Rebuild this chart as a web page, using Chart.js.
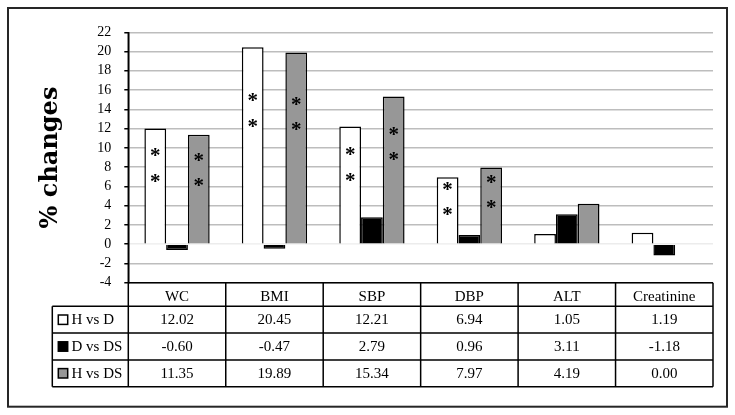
<!DOCTYPE html>
<html>
<head>
<meta charset="utf-8">
<script src="https://cdn.jsdelivr.net/npm/chart.js@4/dist/chart.umd.min.js"></script>
<style>
  html, body { margin: 0; padding: 0; background: #ffffff; }
  canvas { display: block; }
</style>
</head>
<body>
<canvas id="c" width="735" height="415"></canvas>
<script>
// ---- data ----
const categories = ['WC', 'BMI', 'SBP', 'DBP', 'ALT', 'Creatinine'];
const seriesNames = ['H vs D', 'D vs DS', 'H vs DS'];
const hVsD  = [12.02, 20.45, 12.21, 6.94, 1.05, 1.19];
const dVsDS = [-0.60, -0.47, 2.79, 0.96, 3.11, -1.18];
const hVsDS = [11.35, 19.89, 15.34, 7.97, 4.19, 0.00];
const sigHvsD  = ['**', '**', '**', '**', '', ''];
const sigHvsDS = ['**', '**', '**', '**', '', ''];
const yMin = -4, yMax = 22, yStep = 2;
const axisTitle = '% changes';

// ---- styles ----
const seriesFill = ['#ffffff', '#000000', '#979797'];
const serif = '"Liberation Serif", "Times New Roman", serif';

const tablePlugin = {
  id: 'dataTable',
  afterDraw(chart) {
    const ctx = chart.ctx;
    const area = chart.chartArea;
    const xs = chart.scales.x;
    const n = categories.length;
    const w = (area.right - area.left) / n;
    const headerH = 23.6, rowH = 26.8;
    const tableLeft = 52.3;
    const y0 = area.bottom;
    const rows = [y0 + headerH, y0 + headerH + rowH, y0 + headerH + 2 * rowH, y0 + headerH + 3 * rowH];
    const yEnd = rows[3];
    const values = [hVsD, dVsDS, hVsDS];

    ctx.save();
    ctx.strokeStyle = '#000';
    ctx.lineWidth = 1.5;
    ctx.beginPath();
    ctx.moveTo(area.left, y0); ctx.lineTo(area.right, y0);
    rows.forEach(y => { ctx.moveTo(tableLeft, y); ctx.lineTo(area.right, y); });
    ctx.moveTo(tableLeft, rows[0]); ctx.lineTo(tableLeft, yEnd);
    for (let k = 0; k <= n; k++) {
      const x = area.left + k * w;
      ctx.moveTo(x, k === 0 ? area.top : y0); ctx.lineTo(x, yEnd);
    }
    ctx.stroke();

    ctx.font = '15px ' + serif;
    ctx.fillStyle = '#000';
    ctx.textBaseline = 'middle';
    values.forEach((vals, r) => {
      const cy = rows[r] + rowH / 2;
      const ms = 9.4, mx = 58.3;
      ctx.fillStyle = seriesFill[r];
      ctx.fillRect(mx, cy - ms / 2, ms, ms);
      ctx.lineWidth = 1.5;
      ctx.strokeStyle = '#000';
      ctx.strokeRect(mx, cy - ms / 2, ms, ms);
      ctx.fillStyle = '#000';
      ctx.textAlign = 'left';
      ctx.fillText(seriesNames[r], 71.5, cy + 0.5);
      ctx.textAlign = 'center';
      vals.forEach((v, i) => {
        ctx.fillText(v.toFixed(2), xs.getPixelForValue(i), cy + 0.5);
      });
    });

    ctx.strokeStyle = '#262626';
    ctx.lineWidth = 2;
    ctx.strokeRect(8, 8, 719, 398.7);
    ctx.restore();
  }
};

const starPlugin = {
  id: 'stars',
  afterDatasetsDraw(chart) {
    const ctx = chart.ctx;
    ctx.save();
    ctx.font = 'bold 21px ' + serif;
    ctx.fillStyle = '#000';
    ctx.textAlign = 'center';
    ctx.textBaseline = 'alphabetic';
    const m = ctx.measureText('*');
    const shift = (m.actualBoundingBoxAscent - m.actualBoundingBoxDescent) / 2;
    [[0, sigHvsD], [2, sigHvsDS]].forEach(([di, sig]) => {
      const meta = chart.getDatasetMeta(di);
      meta.data.forEach((bar, i) => {
        const s = sig[i];
        if (!s) return;
        const p = bar.getProps(['x', 'y', 'base'], true);
        const cy = p.base + (p.y - p.base) * 0.68;
        for (let k = 0; k < s.length; k++) {
          const yk = cy + (k - (s.length - 1) / 2) * 25.5;
          ctx.fillText(s[k], p.x, yk + shift);
        }
      });
    });
    ctx.restore();
  }
};

new Chart(document.getElementById('c'), {
  type: 'bar',
  data: {
    labels: categories,
    datasets: [hVsD, dVsDS, hVsDS].map((d, i) => ({
      label: seriesNames[i],
      data: d,
      backgroundColor: seriesFill[i],
      borderColor: '#000',
      borderWidth: 1.5,
      categoryPercentage: 0.67,
      barPercentage: 1.0
    }))
  },
  options: {
    responsive: false,
    animation: false,
    devicePixelRatio: 1,
    layout: { padding: { top: 32.3, right: 22, bottom: 0, left: 0 } },
    plugins: { legend: { display: false }, tooltip: { enabled: false } },
    scales: {
      x: {
        grid: { display: false, drawTicks: false },
        border: { display: false },
        ticks: {
          color: '#000',
          font: { family: serif, size: 15 },
          padding: 5,
          autoSkip: false,
          maxRotation: 0
        },
        afterFit(scale) { scale.height = 415 - 282.7; }
      },
      y: {
        min: yMin,
        max: yMax,
        ticks: {
          stepSize: yStep,
          autoSkip: false,
          color: '#000',
          font: { family: serif, size: 14 },
          padding: 13
        },
        grid: {
          color: (c) => c.tick && c.tick.value === 0 ? '#ececec' : '#bdbdbd',
          lineWidth: 1.5,
          tickLength: 4,
          tickColor: '#000',
          tickWidth: 1.5
        },
        border: { color: '#000', width: 1.5 },
        title: {
          display: true,
          text: axisTitle,
          color: '#000',
          font: { family: '"DejaVu Serif", serif', size: 24, weight: 'bold', lineHeight: 1.2 },
          padding: { top: 36, bottom: 0 }
        },
        afterFit(scale) { scale.width = 128.3; }
      }
    }
  },
  plugins: [starPlugin, tablePlugin]
});
</script>
</body>
</html>
